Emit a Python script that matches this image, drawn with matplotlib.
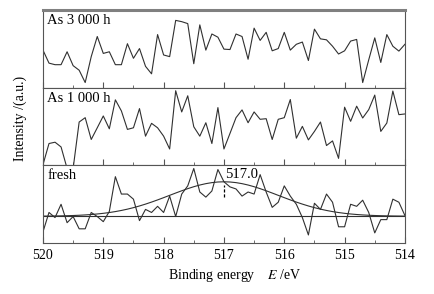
import matplotlib.pyplot as plt
import numpy as np

# binding energy grid, 0.1 eV steps from 520 down to 514
energy = np.linspace(520, 514, 61)

# intensities (arbitrary units)
as_3000h = [38.7, 25.3, 23.7, 23.7, 37.0, 22.7, 18.0, 5.3, 32.0, 52.7, 35.3,
            37.0, 23.7, 23.7, 45.3, 30.3, 40.3, 22.0, 14.3, 54.7, 33.7,
            32.0, 69.3, 68.0, 66.0, 24.7, 64.7, 38.7, 55.3, 52.0, 39.7,
            39.3, 55.3, 52.7, 29.3, 61.3, 48.7, 57.0, 38.0, 40.3, 57.0,
            38.7, 44.7, 47.0, 28.0, 60.3, 50.3, 49.3, 42.7, 34.7, 38.0,
            48.0, 49.7, 5.3, 28.7, 51.3, 26.0, 54.7, 42.7, 37.7, 44.7]

as_1000h = [0.7, 21.7, 23.0, 18.3, -3.0, -3.0, 43.0, 47.3, 25.7, 37.3, 49.0,
            36.3, 65.0, 54.0, 35.7, 37.3, 56.3, 29.0, 41.7, 37.3, 29.0,
            16.3, 74.0, 53.0, 69.0, 38.3, 29.0, 42.3, 21.7, 57.3, 16.3,
            31.7, 47.3, 55.0, 42.3, 53.0, 45.7, 46.3, 25.7, 45.7, 47.3,
            65.3, 27.0, 38.7, 25.3, 33.7, 43.0, 19.7, 24.3, 7.0, 57.7,
            43.7, 58.7, 47.0, 55.3, 69.7, 33.7, 42.0, 73.7, 50.3, 51.0]

fresh = [11, 30, 25, 38, 20, 26, 14, 14, 30, 26, 21,
         31, 65, 48, 48, 43, 22, 33, 30, 36, 30,
         46, 26, 48, 56, 73, 50, 45, 51, 72, 60,
         55, 53, 46, 50, 48, 67, 50, 35, 40, 56,
         46, 38, 25, 8, 39, 33, 48, 40, 16, 16,
         38, 36, 42, 30, 10, 23, 23, 43, 40, 27]

# fitted peak for the fresh sample
peak_center = 517.0
peak_height = 33.7
peak_sigma = 0.9
baseline = 26.3

series = [as_3000h, as_1000h, fresh]
labels = ["As 3 000 h", "As 1 000 h", "fresh"]
ylims = [(0, 80), (0, 77), (0, 76)]

plt.rcParams['font.family'] = 'serif'
plt.rcParams['font.serif'] = ['Liberation Serif', 'DejaVu Serif']
plt.rcParams['mathtext.fontset'] = 'stix'

fig, axes = plt.subplots(3, 1, sharex=True, figsize=(4.34, 2.94), dpi=100,
                         gridspec_kw={'hspace': 0})
fig.subplots_adjust(left=0.099, right=0.933, top=0.966, bottom=0.173)

line_col = '#303030'
spine_col = '#555555'

for ax, y, lab, lim in zip(axes, series, labels, ylims):
    ax.plot(energy, y, color=line_col, lw=0.8)
    ax.set_ylim(*lim)
    ax.set_yticks([])
    ax.text(0.012, 0.95, lab, transform=ax.transAxes, ha='left', va='top',
            fontsize=10.5)
    for s in ax.spines.values():
        s.set_color(spine_col)
        s.set_linewidth(0.8)
    ax.tick_params(axis='x', which='major', direction='in', length=4,
                   width=0.8, color=spine_col, labelsize=10, pad=4)
    ax.tick_params(axis='x', which='minor', direction='in', length=2.5,
                   width=0.6, color=spine_col)

axes[0].spines['top'].set_linewidth(2.2)
axes[0].spines['top'].set_color('#808080')

ax = axes[2]
fit = baseline + peak_height * np.exp(-(energy - peak_center) ** 2
                                      / (2 * peak_sigma ** 2))
ax.plot(energy, fit, color=line_col, lw=0.8)
ax.axhline(baseline, color=line_col, lw=0.8)
ax.plot([peak_center, peak_center], [45, baseline + peak_height - 3],
        color='black', lw=0.9, ls=(0, (2.5, 1.5)))
ax.text(peak_center - 0.02, baseline + peak_height + 1, "517.0",
        ha='left', va='bottom', fontsize=10.5)

ax.set_xlim(520, 514)
ax.set_xticks([520, 519, 518, 517, 516, 515, 514])
ax.set_xticks(np.arange(519.5, 514, -1.0), minor=True)
ax.set_xlabel("Binding energy    $E$ /eV", fontsize=10, labelpad=2)
ax.xaxis.set_label_coords(0.53, -0.31)

fig.text(20 / 434, 1 - 118 / 294, "Intensity /(a.u.)", rotation=90,
         ha='center', va='center', fontsize=10)

fig.savefig("out.png", dpi=100)
